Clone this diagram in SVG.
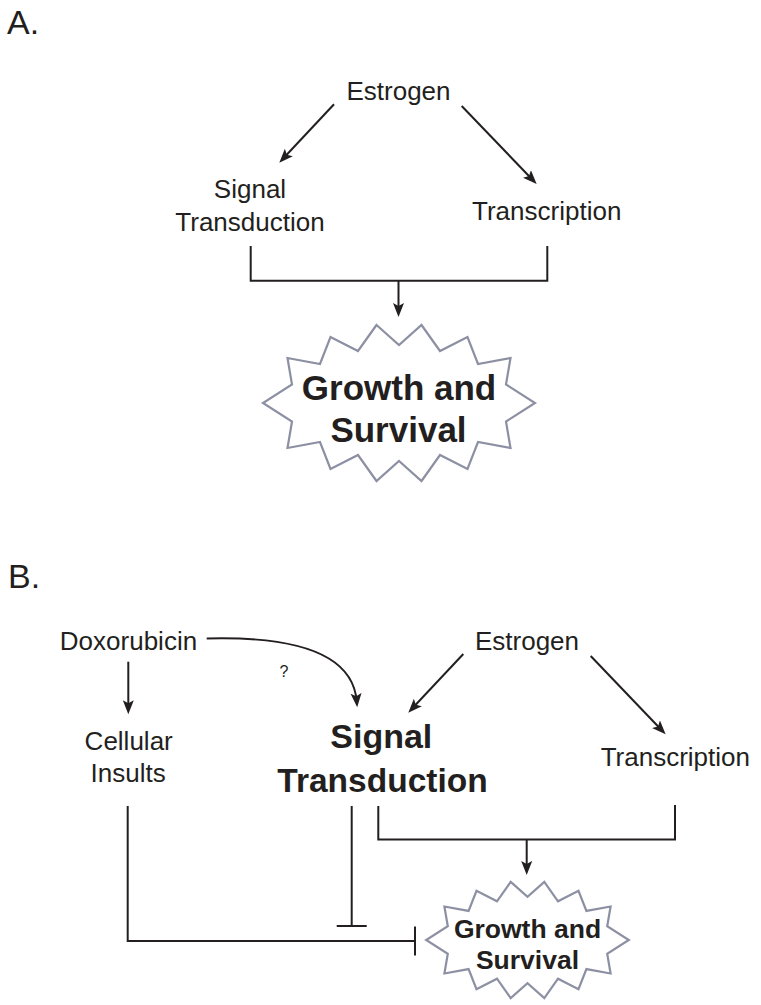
<svg xmlns="http://www.w3.org/2000/svg" width="761" height="1005" viewBox="0 0 761 1005">
<style>
text{font-family:"Liberation Sans",Arial,sans-serif;fill:#231f20;text-anchor:middle}
.lbl{font-size:26px}
.bold{font-weight:bold}
.panel{font-size:34px;text-anchor:start}
.ln{fill:none;stroke:#231f20;stroke-width:2}
.arr{marker-end:url(#ah)}
.burst{fill:#fff;stroke:#8c90a2;stroke-width:2.2;stroke-linejoin:miter}
</style>
<defs>
<marker id="ah" markerUnits="userSpaceOnUse" markerWidth="16" markerHeight="12" refX="8" refY="5.5" orient="auto">
<path d="M0,0 L14,5.5 L0,11 L3,5.5 z" fill="#231f20"/>
</marker>
</defs>
<rect width="761" height="1005" fill="#fff"/>
<text class="panel" x="7" y="34">A.</text>
<text class="panel" x="8" y="588">B.</text>

<g id="connectors">
<line class="ln arr" x1="334" y1="104.3" x2="283.4" y2="158.3"/>
<line class="ln arr" x1="461.7" y1="106" x2="532.5" y2="179.7"/>
<polyline class="ln" points="250.7,246 250.7,280.7 547.3,280.7 547.3,246"/>
<line class="ln arr" x1="398.5" y1="280.7" x2="398.5" y2="311"/>

<line class="ln arr" x1="128.3" y1="661.7" x2="128.3" y2="708.3"/>
<path class="ln arr" d="M206.7,638.5 C300,636 353,656 356.7,701.3"/>
<line class="ln arr" x1="463.3" y1="654" x2="412.4" y2="708.3"/>
<line class="ln arr" x1="590.7" y1="656" x2="661.5" y2="730"/>
<polyline class="ln" points="378.3,806 378.3,839.5 675,839.5 675,805"/>
<line class="ln arr" x1="526.7" y1="839.5" x2="526.7" y2="869"/>
<line class="ln" x1="351.7" y1="806" x2="351.7" y2="926"/>
<line class="ln" x1="336.7" y1="926" x2="366.7" y2="926"/>
<polyline class="ln" points="127.7,806 127.7,941 415,941"/>
<line class="ln" x1="415" y1="926.5" x2="415" y2="955.5"/>
</g>

<g id="nodeA-estrogen"><text class="lbl" x="398.5" y="100">Estrogen</text></g>
<g id="nodeA-signal"><text class="lbl" x="250" y="197.5">Signal</text><text class="lbl" x="250" y="230.5">Transduction</text></g>
<g id="nodeA-transcription"><text class="lbl" x="546.7" y="219.5">Transcription</text></g>
<g id="nodeA-growth">
<polygon class="burst" points="376.5,325 399,345 421.5,325 440,351 467.5,337 478,364 510.5,358 506,384.5 535,403 506,421.5 510.5,448 478,442 467.5,469 440,455 421.5,481 399,461 376.5,481 358,455 330.5,469 320,442 287.5,448 292,421.5 263,403 292,384.5 287.5,358 320,364 330.5,337 358,351"/>
<text class="bold" font-size="35" x="399" y="400">Growth and</text>
<text class="bold" font-size="35" x="398.5" y="441.7">Survival</text>
</g>

<g id="nodeB-doxorubicin"><text class="lbl" x="128.5" y="650">Doxorubicin</text></g>
<g id="nodeB-question"><text x="284" y="677" font-size="16">?</text></g>
<g id="nodeB-insults"><text class="lbl" x="128.7" y="749.5">Cellular</text><text class="lbl" x="128.2" y="781.7">Insults</text></g>
<g id="nodeB-signal"><text class="bold" font-size="34" x="381.3" y="748.3">Signal</text><text class="bold" font-size="33.5" x="382.5" y="791.7">Transduction</text></g>
<g id="nodeB-estrogen"><text class="lbl" x="527" y="650">Estrogen</text></g>
<g id="nodeB-transcription"><text class="lbl" x="675.3" y="766">Transcription</text></g>
<g id="nodeB-growth">
<polygon class="burst" points="510.7,881.9 527.5,896.8 544.3,881.9 558,901.3 578.5,890.8 586.4,910.9 610.6,906.5 607.2,926.2 628.8,940 607.2,953.8 610.6,973.5 586.4,969.1 578.5,989.2 558,978.7 544.3,998.1 527.5,983.2 510.7,998.1 497,978.7 476.5,989.2 468.6,969.1 444.4,973.5 447.8,953.8 426.2,940 447.8,926.2 444.4,906.5 468.6,910.9 476.5,890.8 497,901.3"/>
<text class="bold" font-size="26.5" x="527.5" y="938">Growth and</text>
<text class="bold" font-size="26.5" x="527.5" y="969">Survival</text>
</g>
</svg>
